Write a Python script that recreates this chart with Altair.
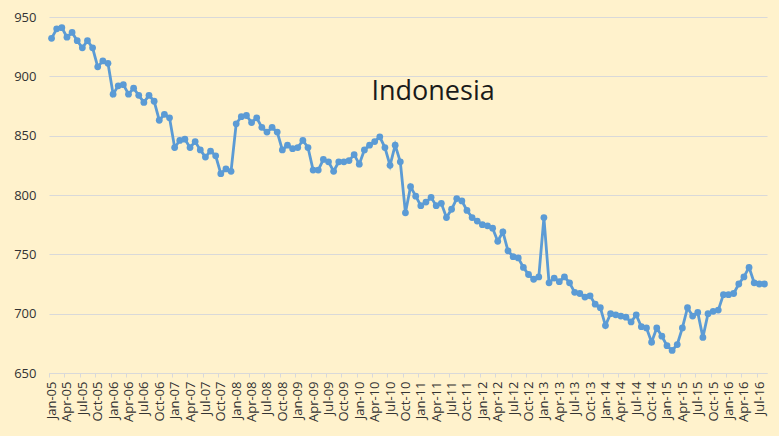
import altair as alt
import pandas as pd

MONTH_NAMES = ["Jan", "Feb", "Mar", "Apr", "May", "Jun",
               "Jul", "Aug", "Sep", "Oct", "Nov", "Dec"]
YEARS = list(range(2005, 2017))

v2005 = [932, 940, 941, 933, 937, 930, 924, 930, 924, 908, 913, 911]
v2006 = [885, 892, 893, 885, 890, 884, 878, 884, 879, 863, 868, 865]
v2007 = [840, 846, 847, 840, 845, 838, 832, 837, 833, 818, 822, 820]
v2008 = [860, 866, 867, 861, 865, 857, 853, 857, 853, 838, 842, 839]
v2009 = [840, 846, 840, 821, 821, 830, 828, 820, 828, 828, 829, 834]
v2010 = [826, 838, 842, 845, 849, 840, 825, 842, 828, 785, 807, 799]
v2011 = [791, 794, 798, 791, 793, 781, 788, 797, 795, 787, 781, 778]
v2012 = [775, 774, 772, 761, 769, 753, 748, 747, 739, 733, 729, 731]
v2013 = [781, 726, 730, 727, 731, 726, 718, 717, 714, 715, 708, 705]
v2014 = [690, 700, 699, 698, 697, 693, 699, 689, 688, 676, 688, 681]
v2015 = [673, 669, 674, 688, 705, 698, 701, 680, 700, 702, 703, 716]
v2016 = [716, 717, 725, 731, 739, 726, 725, 725]

values = (v2005 + v2006 + v2007 + v2008 + v2009 + v2010 + v2011 + v2012
          + v2013 + v2014 + v2015 + v2016)
months = [f"{m}-{str(y)[2:]}" for y in YEARS for m in MONTH_NAMES][:len(values)]
QUARTER_STARTS = ["Jan", "Apr", "Jul", "Oct"]
y_ticks = [650, 700, 750, 800, 850, 900, 950]

TITLE_TEXT = "Indonesia"
TITLE_AT = {"month": "Mar-11", "value": 880}

df = pd.DataFrame({"month": months, "value": values})
title_df = pd.DataFrame({"month": [TITLE_AT["month"]], "value": [TITLE_AT["value"]],
                         "label": [TITLE_TEXT]})

FONT = "Open Sans"
LINE_COLOR = "#5B9BD5"
W, H = 718, 356
HALF_BAND = W / len(months) / 2

is_quarter = f"indexof({QUARTER_STARTS!r}, slice(datum.value, 0, 3)) >= 0"

x_enc = alt.X(
    "month:N",
    sort=months,
    scale=alt.Scale(type="band", paddingInner=0, paddingOuter=0),
    axis=alt.Axis(
        title=None,
        labelExpr=f"{is_quarter} ? datum.value : ''",
        labelAngle=-90,
        labelOverlap=False,
        labelBound=False,
        labelFlush=False,
        tickOffset=-HALF_BAND,
        labelOffset=HALF_BAND,
        tickSize=4,
        tickColor="#D9D9D9",
        tickOpacity=alt.condition(is_quarter, alt.value(1), alt.value(0)),
        domainColor="#D9D9D9",
        labelPadding=4,
        labelFont=FONT,
        labelFontSize=13,
        labelColor="#333333",
        grid=False,
    ),
)
y_enc = alt.Y(
    "value:Q",
    scale=alt.Scale(domain=[650, 950], nice=False, zero=False),
    axis=alt.Axis(
        title=None,
        values=y_ticks,
        domain=False,
        ticks=False,
        labelPadding=13,
        labelFont=FONT,
        labelFontSize=13,
        labelColor="#333333",
        gridColor="#D9D9D9",
        gridWidth=1,
    ),
)

line = alt.Chart(df).mark_line(
    color=LINE_COLOR,
    strokeWidth=2.8,
    point=alt.OverlayMarkDef(filled=True, size=46, color=LINE_COLOR),
).encode(x=x_enc, y=y_enc)

title = alt.Chart(title_df).mark_text(
    font=FONT, fontSize=27, color="#1A1A1A", align="center", baseline="alphabetic", dx=2
).encode(
    x=alt.X("month:N", sort=months),
    y=alt.Y("value:Q"),
    text="label:N",
)

chart = alt.layer(line, title).properties(
    width=W,
    height=H,
    background="#FFF2CC",
    padding={"left": 49, "top": 17, "right": 12, "bottom": 63},
    autosize=alt.AutoSizeParams(type="none"),
).configure_view(stroke=None)

chart.save("out.html", embed_options={"renderer": "svg", "actions": False})
